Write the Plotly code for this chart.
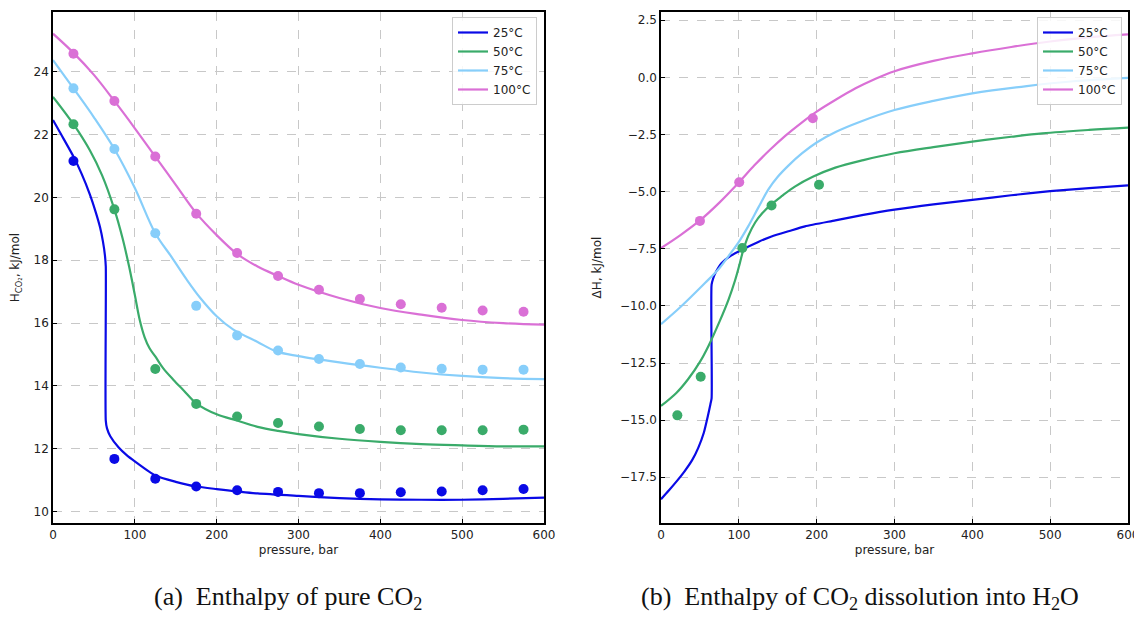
import plotly.graph_objects as go

# ---------------- data: (a) enthalpy of pure CO2 ----------------
temps = ["25°C", "50°C", "75°C", "100°C"]
colors = ["#0a0ae6", "#3aab6a", "#87cefa", "#da70d6"]

p_pts = [25, 75, 125, 175, 225, 275, 325, 375, 425, 475, 525, 575]
h25_pts = [21.16, 11.68, 11.05, 10.80, 10.68, 10.63, 10.59, 10.59, 10.62, 10.64, 10.68, 10.72]
h50_pts = [22.33, 19.62, 14.54, 13.43, 13.03, 12.82, 12.71, 12.63, 12.59, 12.59, 12.59, 12.61]
h75_pts = [23.47, 21.54, 18.86, 16.55, 15.61, 15.13, 14.86, 14.70, 14.59, 14.55, 14.52, 14.52]
h100_pts = [24.57, 23.07, 21.30, 19.48, 18.23, 17.50, 17.06, 16.77, 16.60, 16.49, 16.40, 16.36]

h25_x = [0, 10, 25, 35, 45, 52, 57.5, 61, 63.5, 64.5, 64.5, 66, 70, 80, 90, 100, 125, 150, 175, 200, 250, 300, 350, 400, 450, 500, 550, 600]
h25_y = [22.46, 22.0, 21.3, 20.75, 20.1, 19.55, 19.05, 18.6, 18.15, 17.8, 12.9, 12.65, 12.4, 12.05, 11.8, 11.6, 11.15, 10.95, 10.8, 10.72, 10.58, 10.5, 10.43, 10.39, 10.38, 10.38, 10.41, 10.45]
h50_x = [0, 25, 45, 60, 75, 85, 93, 100, 106, 112, 118, 125, 135, 147, 160, 175, 200, 225, 250, 275, 300, 350, 400, 450, 500, 550, 600]
h50_y = [23.2, 22.33, 21.5, 20.7, 19.62, 18.7, 17.8, 16.9, 16.1, 15.55, 15.2, 14.94, 14.55, 14.2, 13.85, 13.45, 13.1, 12.9, 12.7, 12.57, 12.47, 12.32, 12.22, 12.15, 12.11, 12.08, 12.08]
h75_x = [0, 25, 50, 75, 100, 125, 145, 163, 180, 200, 220, 250, 273, 300, 350, 400, 450, 500, 550, 600]
h75_y = [24.37, 23.47, 22.55, 21.54, 20.3, 18.86, 18.1, 17.4, 16.8, 16.22, 15.8, 15.4, 15.1, 14.95, 14.75, 14.58, 14.43, 14.32, 14.25, 14.22]
h100_x = [0, 25, 50, 75, 100, 125, 150, 175, 200, 225, 250, 275, 300, 350, 400, 450, 500, 550, 600]
h100_y = [25.21, 24.6, 23.9, 23.07, 22.2, 21.3, 20.4, 19.5, 18.8, 18.2, 17.8, 17.5, 17.22, 16.8, 16.48, 16.27, 16.1, 16.0, 15.95]

# ---------------- data: (b) enthalpy of CO2 dissolution ----------------
d50_px = [21, 51, 104.5, 142, 203]
d50_py = [-14.79, -13.10, -7.47, -5.61, -4.70]
d100_px = [50, 100.5, 195]
d100_py = [-6.28, -4.59, -1.79]

d25_x = [0, 10, 20, 30, 40, 48, 55, 60, 63.5, 65, 65, 67, 70, 78, 90, 104, 125, 142, 165, 185, 224, 260, 300, 350, 400, 450, 500, 550, 600]
d25_y = [-18.46, -18.08, -17.68, -17.25, -16.75, -16.2, -15.55, -14.85, -14.3, -14.05, -9.07, -8.8, -8.55, -8.12, -7.8, -7.54, -7.2, -6.96, -6.72, -6.52, -6.26, -6.02, -5.79, -5.56, -5.36, -5.16, -4.98, -4.85, -4.73]
d50_x = [0, 20, 35, 50, 61, 75, 87, 95, 100, 105, 112, 121, 130, 141, 155, 172, 195, 224, 260, 300, 350, 400, 450, 490, 550, 600]
d50_y = [-14.38, -13.8, -13.2, -12.45, -11.75, -10.7, -9.7, -8.9, -8.3, -7.65, -6.95, -6.35, -5.95, -5.58, -5.2, -4.78, -4.35, -3.95, -3.62, -3.32, -3.05, -2.81, -2.6, -2.45, -2.3, -2.2]
d75_x = [0, 25, 56.5, 75, 86.5, 100, 112, 125, 138, 150, 164, 181, 200, 225, 256, 300, 350, 400, 470, 530, 600]
d75_y = [-10.8, -10.05, -9.0, -8.35, -7.83, -7.2, -6.52, -5.7, -4.9, -4.35, -3.85, -3.33, -2.85, -2.38, -1.94, -1.43, -1.03, -0.7, -0.38, -0.17, -0.02]
d100_x = [0, 25, 50, 75, 100, 120, 140, 160, 180, 200, 225, 250, 275, 300, 350, 400, 450, 500, 550, 600]
d100_y = [-7.47, -6.9, -6.26, -5.48, -4.6, -3.85, -3.17, -2.55, -2.0, -1.5, -0.97, -0.48, -0.07, 0.27, 0.72, 1.05, 1.33, 1.57, 1.75, 1.88]

x_ticks = [0, 100, 200, 300, 400, 500, 600]
ya_ticks = [10, 12, 14, 16, 18, 20, 22, 24]
yb_ticks = [-17.5, -15.0, -12.5, -10.0, -7.5, -5.0, -2.5, 0.0, 2.5]

# page body adds an 8px offset; lay the figure out in reference pixels minus that offset
OFF = 8
W, H = 1142 - OFF, 619 - OFF
FONT = "DejaVu Sans"
ML, MT = 53 - OFF, 12 - OFF
MR = W - (1128 - OFF)
MB = H - (523 - OFF)
PW = W - ML - MR
PH = H - MT - MB


def px(xr):
    return (xr - OFF - ML) / PW


def py(yr):
    return (H - MB - (yr - OFF)) / PH


fig = go.Figure()

smooth = [0.6, 1.0, 1.0, 1.0]
left_curves = [(h25_x, h25_y), (h50_x, h50_y), (h75_x, h75_y), (h100_x, h100_y)]
left_pts = [h25_pts, h50_pts, h75_pts, h100_pts]
for name, col, (cx, cy), pts, sm in zip(temps, colors, left_curves, left_pts, smooth):
    fig.add_trace(go.Scatter(x=cx, y=cy, mode="lines", name=name,
                             line=dict(color=col, width=2.2, shape="spline", smoothing=sm),
                             xaxis="x", yaxis="y", legend="legend"))
    fig.add_trace(go.Scatter(x=p_pts, y=pts, mode="markers", showlegend=False,
                             marker=dict(color=col, size=10), xaxis="x", yaxis="y"))

right_curves = [(d25_x, d25_y), (d50_x, d50_y), (d75_x, d75_y), (d100_x, d100_y)]
for name, col, (cx, cy), sm in zip(temps, colors, right_curves, smooth):
    fig.add_trace(go.Scatter(x=cx, y=cy, mode="lines", name=name,
                             line=dict(color=col, width=2.2, shape="spline", smoothing=sm),
                             xaxis="x2", yaxis="y2", legend="legend2"))
fig.add_trace(go.Scatter(x=d50_px, y=d50_py, mode="markers", showlegend=False,
                         marker=dict(color=colors[1], size=10), xaxis="x2", yaxis="y2"))
fig.add_trace(go.Scatter(x=d100_px, y=d100_py, mode="markers", showlegend=False,
                         marker=dict(color=colors[3], size=10), xaxis="x2", yaxis="y2"))

axis_common = dict(showline=True, linecolor="black", linewidth=1.5, mirror=True,
                   ticks="inside", ticklen=4, tickcolor="black", automargin=False,
                   showgrid=True, gridcolor="#c8c8c8", griddash="dash", gridwidth=1,
                   zeroline=False, tickfont=dict(family=FONT, size=12, color="#222"),
                   title_font=dict(family=FONT, size=12, color="#222"))

fig.update_layout(
    width=W, height=H, margin=dict(l=ML, r=MR, t=MT, b=MB, autoexpand=False),
    paper_bgcolor="white", plot_bgcolor="white",
    xaxis=dict(domain=[0, px(544)], range=[0, 600], tickvals=x_ticks,
               title=dict(text="pressure, bar", standoff=4), anchor="y", **axis_common),
    yaxis=dict(domain=[0, 1], range=[9.64, 25.9], tickvals=ya_ticks,
               title=dict(text="H<sub>CO₂</sub>, kJ/mol", standoff=14), anchor="x", **axis_common),
    xaxis2=dict(domain=[px(661), 1], range=[0, 600], tickvals=x_ticks,
                title=dict(text="pressure, bar", standoff=4), anchor="y2", **axis_common),
    yaxis2=dict(domain=[0, 1], range=[-19.5, 2.86], tickvals=yb_ticks, tickformat=".1f",
                title=dict(text="ΔH, kJ/mol", standoff=16), anchor="x2", **axis_common),
    legend=dict(x=px(537), y=py(17), xanchor="right", yanchor="top",
                bgcolor="rgba(255,255,255,0.85)", bordercolor="#cccccc", borderwidth=1,
                font=dict(family=FONT, size=12, color="#222"), tracegroupgap=0),
    legend2=dict(x=px(1122), y=py(17), xanchor="right", yanchor="top",
                 bgcolor="rgba(255,255,255,0.85)", bordercolor="#cccccc", borderwidth=1,
                 font=dict(family=FONT, size=12, color="#222"), tracegroupgap=0),
    annotations=[
        dict(text="(a)  Enthalpy of pure CO<sub>2</sub>", x=px(288), y=py(598),
             xref="paper", yref="paper", showarrow=False, xanchor="center", yanchor="middle",
             font=dict(family="Liberation Serif", size=26, color="#111")),
        dict(text="(b)  Enthalpy of CO<sub>2</sub> dissolution into H<sub>2</sub>O", x=px(860),
             y=py(598), xref="paper", yref="paper", showarrow=False,
             xanchor="center", yanchor="middle",
             font=dict(family="Liberation Serif", size=26, color="#111")),
    ],
)

fig.write_html("out.html")
